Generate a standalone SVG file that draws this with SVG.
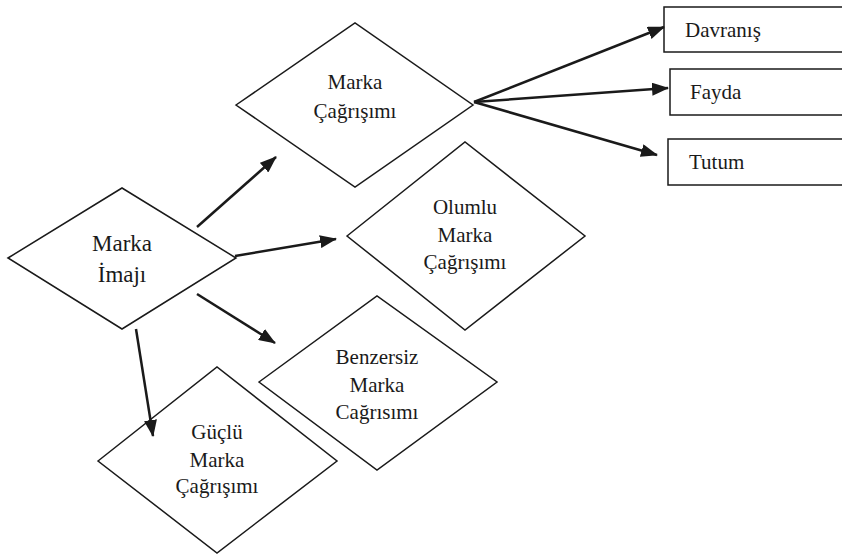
<svg xmlns="http://www.w3.org/2000/svg" width="842" height="557" viewBox="0 0 842 557">
<style>
.shape{fill:#fff;stroke:#1a1a1a;stroke-width:1.5}
.t{font-family:"Liberation Serif","Times New Roman",serif;font-size:21px;fill:#1a1a1a}
.c{text-anchor:middle}
.big{font-size:23px}
.conn line{stroke:#1a1a1a;stroke-width:2.5;marker-end:url(#ah)}
</style>
<defs>
<marker id="ah" markerUnits="userSpaceOnUse" markerWidth="17" markerHeight="13" refX="16" refY="6.5" orient="auto">
<path d="M0,0 L17,6.5 L0,13 z" fill="#1a1a1a"/>
</marker>
</defs>
<rect width="842" height="557" fill="#fff"/>
<g id="imaj">
<polygon class="shape" points="8,258 122,188 236,258 122,329"/>
<text class="t c big" x="122" y="251">Marka</text>
<text class="t c big" x="122" y="282">İmajı</text>
</g>
<g id="cagrisim">
<polygon class="shape" points="236,105 355,23 473,105 355,187"/>
<text class="t c" x="355" y="89">Marka</text>
<text class="t c" x="355" y="118">Çağrışımı</text>
</g>
<g id="olumlu">
<polygon class="shape" points="347,236 465,142 585,236 465,330"/>
<text class="t c" x="465" y="214">Olumlu</text>
<text class="t c" x="465" y="242">Marka</text>
<text class="t c" x="465" y="269">Çağrışımı</text>
</g>
<g id="benzersiz">
<polygon class="shape" points="259,382 377,296 497,382 377,470"/>
<text class="t c" x="377" y="364">Benzersiz</text>
<text class="t c" x="377" y="392">Marka</text>
<text class="t c" x="377" y="419">Cağrısımı</text>
</g>
<g id="guclu">
<polygon class="shape" points="98,461 217,367 337,461 217,553"/>
<text class="t c" x="217" y="439">Güçlü</text>
<text class="t c" x="217" y="467">Marka</text>
<text class="t c" x="217" y="493">Çağrışımı</text>
</g>
<g id="davranis">
<rect class="shape" x="664" y="7" width="190" height="45"/>
<text class="t" x="685" y="37">Davranış</text>
</g>
<g id="fayda">
<rect class="shape" x="670" y="69" width="190" height="46"/>
<text class="t" x="690" y="99">Fayda</text>
</g>
<g id="tutum">
<rect class="shape" x="668" y="139" width="190" height="46"/>
<text class="t" x="689" y="169">Tutum</text>
</g>
<g id="connectors" class="conn">
<line x1="474" y1="102" x2="664" y2="27"/>
<line x1="474" y1="102" x2="668" y2="88"/>
<line x1="474" y1="102" x2="657" y2="155"/>
<line x1="197" y1="227" x2="276" y2="157"/>
<line x1="235" y1="256" x2="336" y2="239"/>
<line x1="197" y1="294" x2="275" y2="343"/>
<line x1="136" y1="329" x2="153" y2="436"/>
</g>
</svg>
